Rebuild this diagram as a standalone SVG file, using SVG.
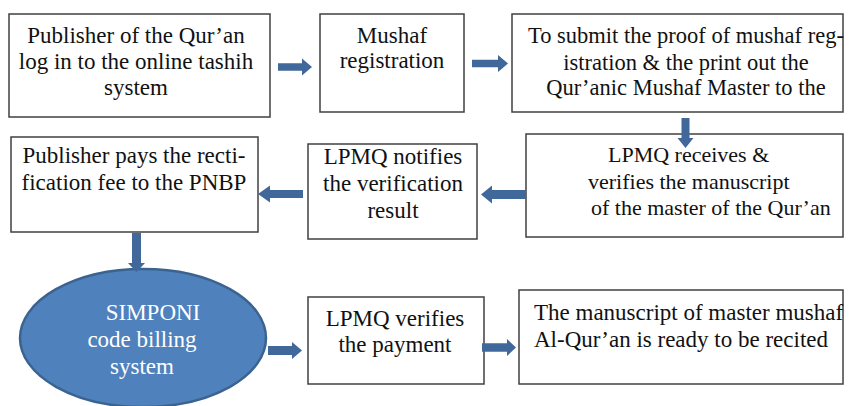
<svg xmlns="http://www.w3.org/2000/svg" width="850" height="406" viewBox="0 0 850 406">
<style>
text{font-family:'Liberation Serif',serif;font-size:23px;fill:#111111}
.box{fill:#ffffff;stroke:#404040;stroke-width:1.5}
.c{text-anchor:middle}
.w{fill:#ffffff}
.s{font-size:22px}
.arr{fill:#41689a;stroke:none}
.ell{fill:#4f81bd;stroke:#3b6390;stroke-width:2.5}
</style>
<rect width="850" height="406" fill="#ffffff"/>
<g id="n1">
<rect class="box" x="9" y="14" width="261" height="103"/>
<text class="c" x="136" y="43">Publisher of the Qur’an</text>
<text class="c" x="136" y="69">log in to the online tashih</text>
<text class="c" x="136" y="95">system</text>
</g>
<g id="n2">
<rect class="box" x="320" y="14" width="144" height="98"/>
<text class="c" x="392" y="43">Mushaf</text>
<text class="c" x="392" y="68">registration</text>
</g>
<g id="n3">
<rect class="box" x="512" y="14" width="331" height="98"/>
<text class="c" x="686" y="43" style="font-size:22.5px">To submit the proof of mushaf reg-</text>
<text class="c" x="686" y="70" style="font-size:22.5px">istration &amp; the print out the</text>
<text class="c" x="686" y="95" style="font-size:22.5px">Qur’anic Mushaf Master to the</text>
</g>
<g id="n4">
<rect class="box" x="526" y="134" width="317" height="103"/>
<text class="s" x="608" y="162">LPMQ receives &amp;</text>
<text class="s" x="588" y="189">verifies the manuscript</text>
<text class="s" x="591" y="215">of the master of the Qur’an</text>
</g>
<g id="n5">
<rect class="box" x="308" y="144" width="169" height="95"/>
<text class="c" x="393" y="164">LPMQ notifies</text>
<text class="c" x="393" y="191">the verification</text>
<text class="c" x="393" y="218">result</text>
</g>
<g id="n6">
<rect class="box" x="11" y="137" width="247" height="95"/>
<text class="c" x="134" y="163">Publisher pays the recti-</text>
<text class="c" x="134" y="190">fication fee to the PNBP</text>
</g>
<g id="n7">
<ellipse class="ell" cx="143" cy="338" rx="123" ry="69"/>
<text class="c w" x="153" y="320">SIMPONI</text>
<text class="c w" x="142" y="347">code billing</text>
<text class="c w" x="142" y="374">system</text>
</g>
<g id="n8">
<rect class="box" x="308" y="297" width="176" height="87"/>
<text class="c" x="395" y="326">LPMQ verifies</text>
<text class="c" x="395" y="352">the payment</text>
</g>
<g id="n9">
<rect class="box" x="519" y="290" width="324" height="94"/>
<text x="534" y="320">The manuscript of master mushaf</text>
<text x="534" y="347">Al-Qur’an is ready to be recited</text>
</g>
<g id="connectors">
<path class="arr" d="M278,63.3 H302 V58.5 L312,67 L302,75.5 V70.7 H278 Z"/>
<path class="arr" d="M472,59.8 H498 V55 L508,63.5 L498,72 V67.2 H472 Z"/>
<path class="arr" d="M681.5,118 V138 H677.5 L685.5,148 L693.5,138 H689.5 V118 Z"/>
<path class="arr" d="M526,190 H492 V185.5 L481,194.5 L492,203.5 V199 H526 Z"/>
<path class="arr" d="M303,190 H270 V185.5 L258,194 L270,202.5 V198 H303 Z"/>
<path class="arr" d="M132,233 V263 H128 L136.5,272 L145,263 H141 V233 Z"/>
<path class="arr" d="M268,346 H292 V342 L302,350.5 L292,359 V355 H268 Z"/>
<path class="arr" d="M482,343.2 H507 V339 L516,347.5 L507,356 V351.8 H482 Z"/>
</g>
</svg>
